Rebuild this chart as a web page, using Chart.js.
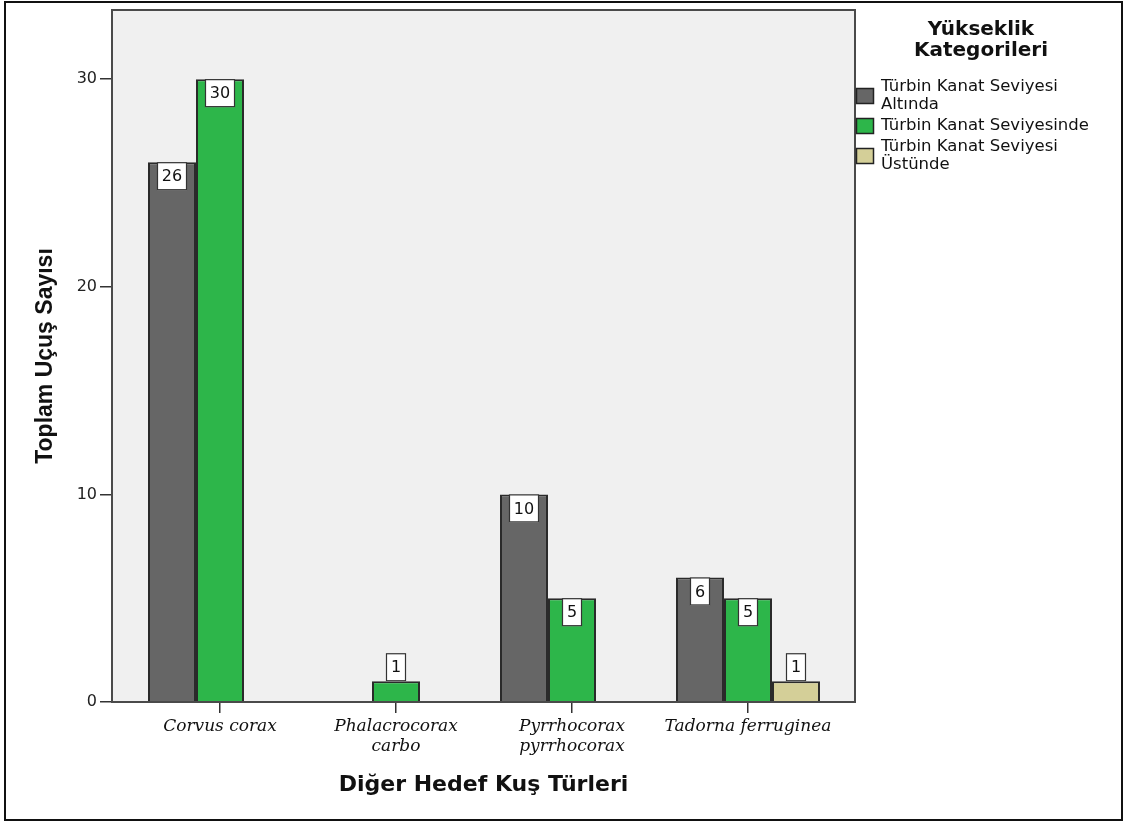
<!DOCTYPE html>
<html>
<head>
<meta charset="utf-8">
<script src="https://cdn.jsdelivr.net/npm/chart.js@4.4.1/dist/chart.umd.min.js"></script>
<style>
  html, body { margin: 0; padding: 0; background: #ffffff; }
  canvas { display: block; }
</style>
</head>
<body>
<canvas id="chart" width="1129" height="823"></canvas>
<script>
// Species on the x axis (multi-line labels as arrays)
const categories = [
  ['Corvus corax'],
  ['Phalacrocorax', 'carbo'],
  ['Pyrrhocorax', 'pyrrhocorax'],
  ['Tadorna ferruginea']
];

// Altitude categories (series)
const seriesNames = [
  'Türbin Kanat Seviyesi Altında',
  'Türbin Kanat Seviyesinde',
  'Türbin Kanat Seviyesi Üstünde'
];
const legendLines = [
  ['Türbin Kanat Seviyesi', 'Altında'],
  ['Türbin Kanat Seviyesinde'],
  ['Türbin Kanat Seviyesi', 'Üstünde']
];
const legendTitle = ['Yükseklik', 'Kategorileri'];

// Flight counts per species
const belowBlade = [26, null, 10, 6];
const atBlade    = [30, 1, 5, 5];
const aboveBlade = [null, null, null, 1];

const yTicks = [0, 10, 20, 30];
const seriesColors = ['#666666', '#2db64a', '#d4cf98'];

const seriesValues = [belowBlade, atBlade, aboveBlade];

// Plot background, outer frame and plot frame
const framePlugin = {
  id: 'frame',
  beforeDraw(chart) {
    const { ctx, chartArea: a } = chart;
    ctx.save();
    ctx.fillStyle = '#f0f0f0';
    ctx.fillRect(a.left, a.top, a.right - a.left, a.bottom - a.top);
    ctx.strokeStyle = '#111111';
    ctx.lineWidth = 2;
    ctx.strokeRect(5, 2, 1117, 818);
    ctx.restore();
  },
  afterDatasetsDraw(chart) {
    const { ctx, chartArea: a } = chart;
    ctx.save();
    ctx.strokeStyle = '#4a4a4a';
    ctx.lineWidth = 2;
    ctx.strokeRect(a.left, a.top, a.right - a.left, a.bottom - a.top);
    ctx.restore();
  }
};

// White value boxes at the top of each bar
const valueBoxPlugin = {
  id: 'valueBoxes',
  afterDatasetsDraw(chart) {
    const { ctx } = chart;
    ctx.save();
    ctx.font = '16px "DejaVu Sans"';
    ctx.textAlign = 'center';
    ctx.textBaseline = 'middle';
    chart.data.datasets.forEach((ds, di) => {
      const meta = chart.getDatasetMeta(di);
      meta.data.forEach((bar, i) => {
        const v = ds.data[i].y;
        if (v === null || v === undefined) return;
        const { x, y, base } = bar.getProps(['x', 'y', 'base'], true);
        const text = String(v);
        const w = Math.round(ctx.measureText(text).width + 10);
        const h = 28;
        const top = (base - y) >= h + 2 ? y : y - h;
        const left = Math.round(x - w / 2);
        ctx.fillStyle = '#ffffff';
        ctx.fillRect(left, top, w, h);
        ctx.strokeStyle = '#333333';
        ctx.lineWidth = 1.2;
        ctx.strokeRect(left + 0.5, top + 0.5, w - 1, h - 1);
        ctx.fillStyle = '#111111';
        ctx.fillText(text, x, top + h / 2 + 1);
      });
    });
    ctx.restore();
  }
};

// Legend at the right side
const legendPlugin = {
  id: 'sideLegend',
  afterDraw(chart) {
    const { ctx } = chart;
    ctx.save();
    ctx.fillStyle = '#111111';
    ctx.textAlign = 'center';
    ctx.textBaseline = 'middle';
    ctx.font = 'bold 20px "DejaVu Sans"';
    legendTitle.forEach((t, i) => ctx.fillText(t, 981, 30 + i * 21));

    ctx.font = '16.5px "DejaVu Sans"';
    ctx.textAlign = 'left';
    let lineY = 87;
    chart.data.datasets.forEach((ds, di) => {
      const lines = legendLines[di];
      const firstY = lineY;
      lines.forEach((t) => {
        ctx.fillStyle = '#111111';
        ctx.fillText(t, 881, lineY);
        lineY += 18;
      });
      const lastY = lineY - 18;
      const cy = (firstY + lastY) / 2;
      ctx.fillStyle = ds.backgroundColor;
      ctx.fillRect(856, cy - 8, 18, 16);
      ctx.strokeStyle = '#222222';
      ctx.lineWidth = 1.5;
      ctx.strokeRect(856.5, cy - 7.5, 17, 15);
      lineY = lastY + 21;
    });
    ctx.restore();
  }
};

new Chart(document.getElementById('chart'), {
  type: 'bar',
  data: {
    datasets: seriesNames.map((name, k) => ({
      label: name,
      data: seriesValues[k].map((v, i) => ({ x: i, y: v })),
      backgroundColor: seriesColors[k],
      borderColor: '#2a2a2a',
      borderWidth: 2,
      categoryPercentage: 144 / 176,
      barPercentage: 1
    }))
  },
  options: {
    responsive: false,
    animation: false,
    devicePixelRatio: 1,
    layout: { padding: { left: 0, top: 10, right: 274, bottom: 0 } },
    plugins: {
      legend: { display: false },
      tooltip: { enabled: false }
    },
    scales: {
      x: {
        type: 'linear',
        min: -0.6136,
        max: 3.608,
        offset: false,
        afterBuildTicks: (s) => { s.ticks = categories.map((c, i) => ({ value: i })); },
        afterFit: (s) => { s.height = 121; s.paddingLeft = 0; s.paddingRight = 0; },
        grid: { drawOnChartArea: false, drawTicks: true, tickLength: 11, offset: false, color: '#333333', lineWidth: 1.5 },
        border: { display: true, color: '#444444', width: 2 },
        ticks: {
          autoSkip: false,
          maxRotation: 0,
          minRotation: 0,
          padding: 3,
          color: '#111111',
          font: { family: 'DejaVu Serif', style: 'italic', size: 17, lineHeight: 1.2 },
          callback: (v) => categories[v]
        },
        title: {
          display: true,
          text: 'Diğer Hedef Kuş Türleri',
          color: '#111111',
          font: { family: 'DejaVu Sans', weight: 'bold', size: 22 },
          padding: { top: 0, bottom: 25 }
        }
      },
      y: {
        min: 0,
        max: 33.33,
        afterBuildTicks: (s) => { s.ticks = yTicks.map((v) => ({ value: v })); },
        afterFit: (s) => { s.width = 112; s.paddingTop = 0; s.paddingBottom = 0; },
        grid: { drawOnChartArea: false, drawTicks: true, tickLength: 12, color: '#333333', lineWidth: 1.5 },
        border: { display: true, color: '#444444', width: 2 },
        ticks: {
          padding: 3,
          color: '#222222',
          font: { family: 'DejaVu Sans', size: 16 }
        },
        title: {
          display: true,
          text: 'Toplam Uçuş Sayısı',
          color: '#111111',
          font: { family: 'Liberation Sans', weight: 'bold', size: 23 },
          padding: { top: 32, bottom: 0 }
        }
      }
    }
  },
  plugins: [framePlugin, valueBoxPlugin, legendPlugin]
});
</script>
</body>
</html>
